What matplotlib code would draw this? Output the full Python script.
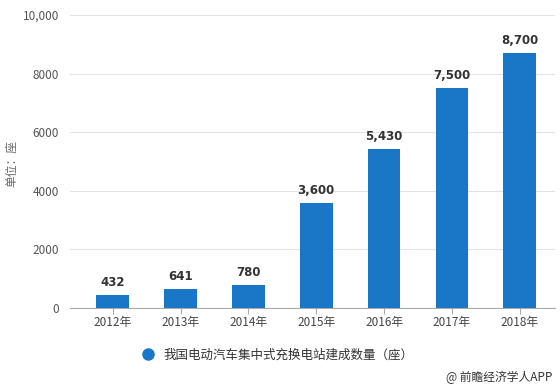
import matplotlib
matplotlib.use("Agg")
import matplotlib.pyplot as plt
from matplotlib.lines import Line2D

plt.rcParams['font.family'] = ['Noto Sans CJK SC', 'DejaVu Sans']

years = ["2012年", "2013年", "2014年", "2015年", "2016年", "2017年", "2018年"]
values = [432, 641, 780, 3600, 5430, 7500, 8700]
labels = ["432", "641", "780", "3,600", "5,430", "7,500", "8,700"]
yticks = [0, 2000, 4000, 6000, 8000, 10000]
yticklabels = ["0", "2000", "4000", "6000", "8000", "10,000"]
series_name = "我国电动汽车集中式充换电站建成数量（座）"

blue = "#1a76c7"
fig = plt.figure(figsize=(5.6, 3.88), dpi=100)
ax = fig.add_axes([70/560, 1-308/388, 485/560, 293/388])

x = range(len(years))
ax.bar(x, values, width=0.48, color=blue, zorder=3)
for xi, v, lab in zip(x, values, labels):
    ax.text(xi, v + 200, lab, ha='center', va='bottom', fontsize=8.5,
            fontweight='bold', color='#333333', family=['DejaVu Sans'])

ax.set_xlim(-0.63, 6.52)
ax.set_ylim(0, 10000)
ax.set_yticks(yticks)
ax.set_yticklabels(yticklabels)
ax.set_xticks(list(x))
ax.set_xticklabels(years)
ax.grid(axis='y', color='#e3e3e3', linewidth=0.8, zorder=0)
for s in ['top', 'right', 'left']:
    ax.spines[s].set_visible(False)
ax.spines['bottom'].set_color('#aaaaaa')
ax.tick_params(axis='y', length=0, labelsize=8.5, labelcolor='#555555', pad=8)
ax.tick_params(axis='x', length=4, color='#aaaaaa', labelsize=8.5, labelcolor='#444444', pad=2)

fig.text(12/560, 1-163/388, "单位：座", rotation=90, ha='center', va='center',
         fontsize=8.5, color='#666666')

handle = Line2D([], [], marker='o', linestyle='none', markersize=8,
                markerfacecolor=blue, markeredgecolor=blue)
fig.legend([handle], [series_name], loc='center', bbox_to_anchor=(0.49, 1-355/388),
           frameon=False, fontsize=9, handletextpad=0.3, labelcolor='#333333')

fig.text(552/560, 1-377/388, "@ 前瞻经济学人APP", ha='right', va='center',
         fontsize=8.5, color='#333333')

fig.savefig("out.png", dpi=100)
